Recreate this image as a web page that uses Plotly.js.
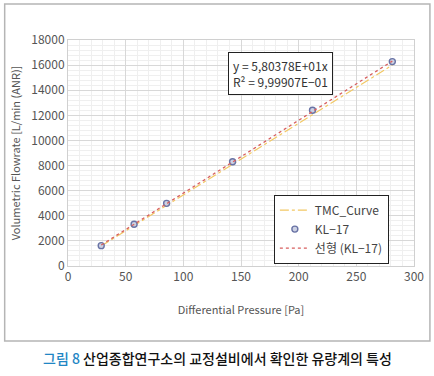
<!DOCTYPE html>
<html>
<head>
<meta charset="utf-8">
<script src="https://cdn.plot.ly/plotly-3.0.1.min.js"></script>
<style>
html,body{margin:0;padding:0;background:#fff;}
#chart{width:434px;height:376px;}
</style>
</head>
<body>
<div id="chart"></div>
<script>
// Measured data (KL-17)
var klX = [28.8, 57.3, 85.5, 142.7, 212.0, 281.2];
var klY = [1620, 3320, 4990, 8300, 12400, 16280];
// TMC curve (reference)
var tmcX = [28.8, 281.2];
var tmcY = [1590, 16000];
// Linear trendline of KL-17
var fitX = [28.8, 281.2];
var fitY = [1670, 16320];

var eqText = "y = 5,80378E+01x<br>R² = 9,99907E−01";
var xTitle = "Differential Pressure [Pa]";
var yTitle = "Volumetric Flowrate [L/min (ANR)]";
var names = ["TMC_Curve", "KL−17", "선형 (KL−17)"];
var captionA = "그림 8";
var captionB = " 산업종합연구소의 교정설비에서 확인한 유량계의 특성";

var FONT = "Noto Sans CJK KR, Noto Sans, sans-serif";

var traces = [
  {x: tmcX, y: tmcY, name: names[0], mode: "lines", type: "scatter",
   line: {color: "rgb(242,200,100)", width: 1.2, dash: "dashdot"}},
  {x: klX, y: klY, name: names[1], mode: "markers", type: "scatter",
   marker: {symbol: "circle", size: 6, color: "rgba(200,205,225,0.9)", line: {width: 1.4, color: "rgb(105,115,165)"}}},
  {x: fitX, y: fitY, name: names[2], mode: "lines", type: "scatter",
   line: {color: "rgb(215,95,95)", width: 1.3, dash: "dot"}}
];

var layout = {
  width: 434, height: 376,
  margin: {l: 67.5, r: 20, t: 40, b: 110},
  paper_bgcolor: "rgba(0,0,0,0)",
  plot_bgcolor: "#fff",
  font: {family: FONT, size: 12, color: "#555"},
  showlegend: true,
  legend: {x: 0.595, y: 0.316, xanchor: "left", yanchor: "top",
           bordercolor: "#222", borderwidth: 1, bgcolor: "#fff",
           font: {size: 12, color: "#444"}, itemwidth: 30, tracegroupgap: 0},
  xaxis: {range: [0, 300], dtick: 50, tick0: 0, showgrid: true, gridcolor: "#d8d8d8",
          minor: {dtick: 10, showgrid: true, gridcolor: "#efefef"},
          zeroline: false, showline: true, linecolor: "#d0d0d0", mirror: true,
          ticks: "", tickformat: "d", tickfont: {size: 12, color: "#555"},
          title: {text: xTitle, font: {size: 11, color: "#555"}, standoff: 22}},
  yaxis: {range: [0, 18000], dtick: 2000, tick0: 0, showgrid: true, gridcolor: "#d8d8d8",
          minor: {dtick: 400, showgrid: true, gridcolor: "#efefef"},
          zeroline: false, showline: true, linecolor: "#d0d0d0", mirror: true,
          ticks: "", tickformat: "d", tickfont: {size: 12, color: "#555"},
          title: {text: yTitle, font: {size: 11, color: "#555"}, standoff: 8}},
  annotations: [
    {xref: "paper", yref: "paper", x: 0.613, y: 0.85, xanchor: "center", yanchor: "middle",
     text: eqText, showarrow: false,
     align: "left", bordercolor: "#222", borderwidth: 1, borderpad: 4, bgcolor: "#fff",
     font: {size: 12, color: "#333"}},
    {xref: "paper", yref: "paper", x: 0.431, y: -0.407, xanchor: "center", yanchor: "middle",
     showarrow: false,
     text: "<span style='color:#1f86c4'>" + captionA + "</span>" + captionB,
     font: {size: 14, color: "#111", family: FONT, weight: 500}}
  ],
  shapes: [
    {type: "rect", xref: "paper", yref: "paper", x0: -0.183, x1: 1.046, y0: -0.332, y1: 1.159,
     line: {color: "#b5b5b5", width: 1.5}, fillcolor: "rgba(0,0,0,0)", layer: "below"}
  ]
};

Plotly.newPlot("chart", traces, layout, {displayModeBar: false, staticPlot: true});
</script>
</body>
</html>
